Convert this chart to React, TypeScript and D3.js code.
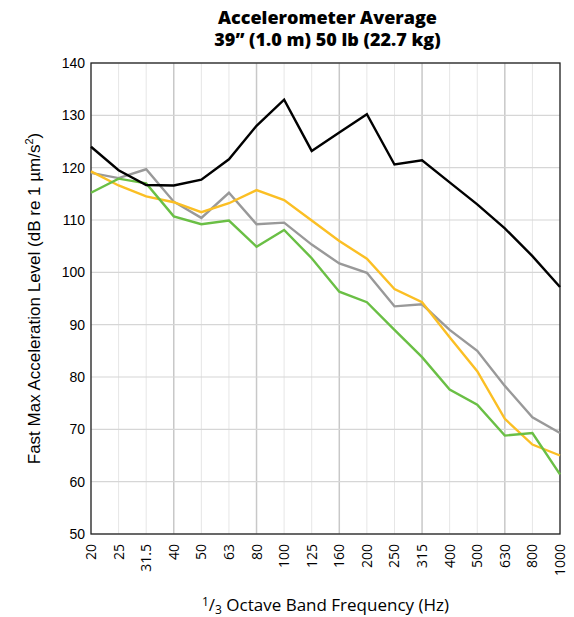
import { useEffect, useRef } from "react"
import * as d3 from "d3"

const freqs = ["20", "25", "31.5", "40", "50", "63", "80", "100", "125", "160", "200", "250", "315", "400", "500", "630", "800", "1000"]
const black = [124, 119.5, 116.7, 116.6, 117.7, 121.6, 128, 133, 123.2, 126.7, 130.2, 120.6, 121.4, 117.2, 113, 108.4, 103.1, 97.2]
const gray = [119, 118, 119.7, 113.5, 110.4, 115.2, 109.2, 109.5, 105.3, 101.7, 99.9, 93.5, 93.9, 89, 85, 78.3, 72.3, 69.3]
const yellow = [119.3, 116.6, 114.5, 113.4, 111.5, 113.2, 115.7, 113.8, 109.9, 106, 102.6, 96.8, 94.3, 87.6, 81.1, 72.0, 67.1, 65]
const green = [115.2, 117.9, 117, 110.7, 109.2, 109.9, 104.9, 108.1, 102.7, 96.3, 94.3, 89, 83.8, 77.6, 74.7, 68.8, 69.3, 61.4]
const yTicks = [50, 60, 70, 80, 90, 100, 110, 120, 130, 140]
const majorFreqs = ["40", "80", "160", "315", "630"]

export default function App() {
  const svgRef = useRef<SVGSVGElement>(null)

  useEffect(() => {
    if (!svgRef.current) return
    const svg = d3.select(svgRef.current)
    svg.selectAll("*").remove()

    const left = 91, right = 560, top = 63, bottom = 534
    const x = d3.scalePoint<string>().domain(freqs).range([left, right])
    const y = d3.scaleLinear().domain([50, 140]).range([bottom, top])

    // grid
    svg.append("g").selectAll("line").data(freqs).enter().append("line")
      .attr("x1", (d) => x(d)!).attr("x2", (d) => x(d)!)
      .attr("y1", top).attr("y2", bottom)
      .attr("stroke", (d) => (majorFreqs.includes(d) ? "#c8c8c8" : "#e6e6e6"))
      .attr("stroke-width", (d) => (majorFreqs.includes(d) ? 1.5 : 1))
    svg.append("g").selectAll("line").data(yTicks).enter().append("line")
      .attr("x1", left).attr("x2", right)
      .attr("y1", (d) => y(d)).attr("y2", (d) => y(d))
      .attr("stroke", "#d6d6d6").attr("stroke-width", 1.2)

    // frame
    svg.append("rect").attr("x", left).attr("y", top)
      .attr("width", right - left).attr("height", bottom - top)
      .attr("fill", "none").attr("stroke", "#222").attr("stroke-width", 1.3)

    const line = d3.line<number>().x((_, i) => x(freqs[i])!).y((d) => y(d))
    const series: [number[], string][] = [
      [gray, "#999999"], [yellow, "#fbbf24"], [green, "#6abf45"], [black, "#000000"],
    ]
    series.forEach(([vals, color]) => {
      svg.append("path").datum(vals).attr("fill", "none")
        .attr("stroke", color).attr("stroke-width", 2.4)
        .attr("stroke-linejoin", "miter").attr("d", line)
    })

    // y ticks
    svg.append("g").selectAll("text").data(yTicks).enter().append("text")
      .attr("x", left - 6).attr("y", (d) => y(d) + 5)
      .attr("text-anchor", "end").attr("font-size", 14)
      .style("font-family", "Liberation Sans, Arial, sans-serif")
      .text((d) => d)

    // x ticks
    svg.append("g").selectAll("text").data(freqs).enter().append("text")
      .attr("transform", (d) => `translate(${x(d)! + 5},${bottom + 10}) rotate(-90)`)
      .attr("text-anchor", "end").attr("font-size", 14)
      .style("font-family", "Open Sans, sans-serif")
      .text((d) => d)

    // axis titles
    const xt = svg.append("text").attr("x", (left + right) / 2).attr("y", 611)
      .attr("text-anchor", "middle").attr("font-size", 17)
      .style("font-family", "Open Sans, sans-serif")
    xt.append("tspan").attr("font-size", 12).attr("dy", -5).text("1")
    xt.append("tspan").attr("dy", 5).text("/")
    xt.append("tspan").attr("font-size", 12).attr("dy", 3).text("3")
    xt.append("tspan").attr("dy", -3).text(" Octave Band Frequency (Hz)")

    const yt = svg.append("text")
      .attr("transform", `translate(40,${(top + bottom) / 2}) rotate(-90)`)
      .attr("text-anchor", "middle").attr("font-size", 17)
      .style("font-family", "Liberation Sans, Arial, sans-serif")
    yt.append("tspan").text("Fast Max Acceleration Level (dB re 1 µm/s")
    yt.append("tspan").attr("font-size", 11).attr("dy", -7).text("2")
    yt.append("tspan").attr("dy", 7).text(")")

    // title
    const title = ["Accelerometer Average", "39” (1.0 m) 50 lb (22.7 kg)"]
    svg.append("g").selectAll("text").data(title).enter().append("text")
      .attr("x", (left + right) / 2 + 2).attr("y", (_, i) => 24 + i * 22)
      .attr("text-anchor", "middle").attr("font-size", 18).attr("font-weight", 800)
      .style("font-family", "Open Sans, sans-serif")
      .text((d) => d)
  }, [])

  return <svg ref={svgRef} width={574} height={617} style={{ position: "absolute", left: 0, top: 0, background: "#fff" }} />
}
